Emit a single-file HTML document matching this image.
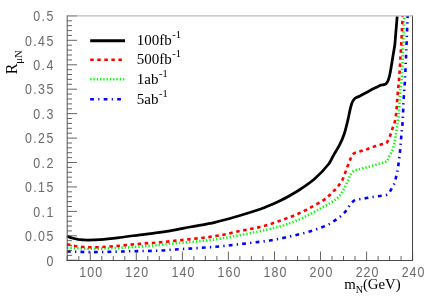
<!DOCTYPE html>
<html><head><meta charset="utf-8"><style>
html,body{margin:0;padding:0;background:#fff;}
svg{display:block;will-change:transform;}
.tk line{stroke:#555;stroke-width:0.9;}
.lab text{font-family:"Liberation Sans",sans-serif;font-size:13.8px;fill:#6a6a6a;letter-spacing:1.6px;}
.ser{font-family:"Liberation Serif",serif;font-size:15px;fill:#000;}
.cv path{fill:none;stroke-linejoin:round;stroke-linecap:butt;}
</style></head><body>
<svg width="436" height="301" viewBox="0 0 436 301">
<g class="cv">
<path d="M67.0,251.4 C74.7,251.6 82.3,252.1 90.0,252.1 C103.3,252.1 116.7,251.6 130.0,251.3 C140.0,251.1 150.0,251.0 160.0,250.6 C163.3,250.5 166.7,250.0 170.0,249.8 C185.0,248.8 200.0,248.1 215.0,246.8 C230.0,245.5 245.0,243.5 260.0,241.8 C263.3,241.4 266.7,241.1 270.0,240.5 C275.1,239.6 280.2,238.7 285.3,237.5 C293.7,235.6 302.2,233.7 310.5,231.3 C315.2,229.9 319.8,228.1 324.4,226.3 C326.3,225.6 328.2,224.7 330.0,223.7 C332.2,222.4 334.3,220.9 336.4,219.4 C338.3,218.1 340.2,216.7 341.9,215.2 C343.6,213.7 345.1,212.0 346.5,210.3 C347.9,208.6 348.8,206.5 350.2,204.8 C351.6,203.1 353.0,201.2 354.8,200.2 C356.6,199.2 359.1,199.3 361.2,198.9 C363.5,198.5 365.7,198.2 368.0,197.8 C370.3,197.4 372.7,197.0 375.0,196.7 C377.1,196.4 379.3,196.2 381.4,195.8 C383.6,195.4 386.1,195.5 387.8,194.3 C389.5,193.1 390.4,190.7 391.5,188.8 C392.6,186.9 393.8,184.9 394.6,182.8 C395.5,180.3 395.9,177.6 396.5,175.0 C397.0,173.0 397.5,171.0 397.8,168.9 C398.5,164.6 399.0,160.3 399.5,156.0 C399.8,153.9 400.0,151.7 400.2,149.6 C400.6,145.0 400.9,140.4 401.3,135.8 C401.7,131.2 402.3,126.6 402.6,122.0 C403.1,114.7 403.2,107.5 403.6,100.2 C403.9,94.5 404.5,88.7 404.8,83.0 C405.5,70.3 406.0,57.7 406.5,45.0 C406.9,35.3 407.2,25.7 407.6,16.0" stroke="#00f" stroke-width="2.6" stroke-dasharray="3.8 4.2 1.3 4.2"/>
<path d="M67.0,247.6 C74.7,248.0 82.3,248.8 90.0,248.8 C100.0,248.8 110.0,248.3 120.0,247.8 C133.3,247.1 146.7,246.1 160.0,245.0 C163.3,244.7 166.7,244.1 170.0,243.8 C185.0,242.3 200.1,241.6 215.0,239.5 C230.1,237.4 245.0,234.1 260.0,231.2 C263.4,230.6 266.7,229.7 270.0,228.9 C274.6,227.7 279.3,226.6 283.8,225.2 C288.4,223.7 293.0,222.1 297.5,220.2 C302.2,218.2 306.8,215.9 311.3,213.5 C315.9,211.1 320.4,208.4 325.0,205.9 C326.7,205.0 328.4,204.2 330.0,203.2 C332.0,202.0 334.0,200.7 335.8,199.3 C337.3,198.1 338.8,196.8 340.0,195.2 C341.9,192.7 343.5,189.8 345.0,187.0 C346.1,184.9 346.9,182.7 347.9,180.6 C348.8,178.5 349.5,176.3 350.6,174.4 C351.3,173.2 352.3,172.2 353.4,171.4 C354.6,170.6 356.1,170.1 357.5,169.6 C359.7,168.9 362.1,168.5 364.4,167.9 C366.7,167.3 369.0,166.7 371.3,166.1 C373.6,165.5 375.9,164.8 378.2,164.1 C380.5,163.4 382.8,162.8 385.0,162.0 C385.7,161.7 386.7,161.6 387.1,161.0 C388.1,159.6 388.4,157.6 389.2,156.0 C390.0,154.4 391.2,153.0 391.9,151.4 C392.8,149.3 393.4,147.0 394.0,144.8 C394.6,142.5 394.9,140.2 395.3,137.9 C395.7,135.6 396.0,133.3 396.3,131.0 C396.7,128.7 397.1,126.4 397.4,124.1 C397.9,120.3 398.5,116.6 398.8,112.8 C399.5,104.4 399.9,96.0 400.6,87.6 C400.8,85.1 401.5,82.6 401.6,80.0 C402.7,58.7 403.4,37.3 404.3,16.0" stroke="#0f0" stroke-width="2.6" stroke-dasharray="1.35 2.05"/>
<path d="M67.0,244.3 C69.7,244.9 72.3,245.6 75.0,246.0 C80.0,246.6 85.0,247.2 90.0,247.3 C96.7,247.4 103.3,247.0 110.0,246.5 C120.0,245.8 130.0,244.6 140.0,243.8 C146.7,243.2 153.3,242.9 160.0,242.3 C163.3,242.0 166.7,241.7 170.0,241.3 C185.0,239.6 200.1,238.4 215.0,236.2 C223.4,235.0 231.7,232.7 240.0,231.0 C246.7,229.6 253.4,228.5 260.0,227.0 C263.9,226.1 267.6,224.9 271.4,223.7 C276.0,222.2 280.6,220.6 285.1,218.9 C289.5,217.3 293.9,215.6 298.2,213.7 C302.6,211.7 307.0,209.5 311.3,207.2 C315.7,204.8 320.2,202.4 324.4,199.6 C326.2,198.5 327.7,196.9 329.2,195.5 C330.2,194.6 331.0,193.5 332.0,192.5 C333.2,191.3 334.7,190.4 335.8,189.1 C337.3,187.4 338.6,185.4 340.0,183.5 C340.7,182.5 341.6,181.7 342.1,180.6 C343.3,178.2 344.1,175.5 345.1,173.0 C346.1,170.5 346.9,168.0 347.9,165.5 C348.8,163.2 349.6,160.8 350.6,158.6 C351.4,156.9 352.0,154.9 353.4,153.8 C355.0,152.5 357.5,152.2 359.6,151.5 C362.1,150.6 364.7,150.0 367.2,149.1 C369.5,148.3 371.7,147.4 374.0,146.6 C376.3,145.8 378.6,145.2 380.9,144.5 C382.7,144.0 384.9,144.0 386.4,143.1 C387.2,142.6 387.5,141.4 388.0,140.5 C388.7,139.2 389.3,137.9 389.8,136.5 C390.7,134.2 391.4,131.8 392.2,129.4 C393.0,127.0 394.1,124.6 394.7,122.1 C395.4,119.1 395.9,115.9 396.2,112.8 C396.9,106.1 397.2,99.3 397.8,92.6 C398.2,88.4 398.7,84.2 399.0,80.0 C399.8,68.3 400.5,56.7 401.2,45.0 C401.7,35.4 402.1,25.9 402.6,16.3" stroke="#f00" stroke-width="2.6" stroke-dasharray="3.5 3.6"/>
<path d="M67.0,236.0 C68.7,236.7 70.3,237.5 72.0,238.0 C74.0,238.6 76.0,239.1 78.0,239.4 C81.3,239.8 84.7,240.0 88.0,240.0 C92.0,240.0 96.0,239.9 100.0,239.6 C106.7,239.1 113.3,238.3 120.0,237.5 C126.7,236.7 133.3,235.7 140.0,234.8 C146.7,234.0 153.3,233.3 160.0,232.4 C163.3,232.0 166.7,231.5 170.0,230.9 C176.7,229.7 183.3,228.3 190.0,227.0 C198.3,225.4 206.7,224.2 215.0,222.3 C223.4,220.4 231.7,217.9 240.0,215.5 C246.7,213.6 253.4,211.5 260.0,209.3 C263.4,208.1 266.7,206.7 270.0,205.3 C273.4,203.9 276.7,202.3 280.0,200.7 C282.6,199.4 285.3,198.1 287.8,196.7 C291.9,194.4 296.1,192.1 300.0,189.5 C305.1,186.1 310.4,182.6 315.0,178.5 C320.0,174.1 324.6,169.2 328.7,164.0 C330.7,161.6 331.7,158.4 333.3,155.7 C335.4,152.0 337.8,148.5 339.7,144.7 C341.5,141.2 343.0,137.5 344.3,133.7 C345.7,129.4 346.7,124.9 347.8,120.4 C349.1,115.0 349.9,109.3 351.6,104.0 C352.2,102.0 353.3,99.8 354.8,98.4 C356.1,97.1 358.3,96.9 360.0,96.0 C363.4,94.2 366.6,92.3 370.0,90.5 C372.8,89.0 375.7,87.7 378.5,86.3 C379.4,85.9 380.3,85.3 381.2,85.0 C382.1,84.7 383.1,84.9 384.0,84.6 C384.8,84.4 385.6,84.1 386.2,83.6 C386.9,82.9 387.5,81.9 387.9,81.0 C388.6,79.4 389.1,77.7 389.5,76.0 C390.2,73.0 390.7,70.0 391.2,67.0 C391.7,64.3 392.1,61.5 392.5,58.8 C393.0,56.0 393.4,53.3 393.9,50.5 C394.2,48.7 394.6,46.8 394.8,45.0 C395.2,41.8 395.3,38.5 395.6,35.3 C396.1,29.0 396.7,22.6 397.2,16.3" stroke="#000" stroke-width="2.75"/>
</g>
<g class="tk"><line x1="67" y1="260.2" x2="77" y2="260.2"/><line x1="67" y1="255.4" x2="72" y2="255.4"/><line x1="67" y1="250.5" x2="72" y2="250.5"/><line x1="67" y1="245.6" x2="72" y2="245.6"/><line x1="67" y1="240.7" x2="72" y2="240.7"/><line x1="67" y1="235.8" x2="77" y2="235.8"/><line x1="67" y1="230.9" x2="72" y2="230.9"/><line x1="67" y1="226.0" x2="72" y2="226.0"/><line x1="67" y1="221.2" x2="72" y2="221.2"/><line x1="67" y1="216.3" x2="72" y2="216.3"/><line x1="67" y1="211.4" x2="77" y2="211.4"/><line x1="67" y1="206.5" x2="72" y2="206.5"/><line x1="67" y1="201.6" x2="72" y2="201.6"/><line x1="67" y1="196.7" x2="72" y2="196.7"/><line x1="67" y1="191.8" x2="72" y2="191.8"/><line x1="67" y1="186.9" x2="77" y2="186.9"/><line x1="67" y1="182.1" x2="72" y2="182.1"/><line x1="67" y1="177.2" x2="72" y2="177.2"/><line x1="67" y1="172.3" x2="72" y2="172.3"/><line x1="67" y1="167.4" x2="72" y2="167.4"/><line x1="67" y1="162.5" x2="77" y2="162.5"/><line x1="67" y1="157.6" x2="72" y2="157.6"/><line x1="67" y1="152.7" x2="72" y2="152.7"/><line x1="67" y1="147.8" x2="72" y2="147.8"/><line x1="67" y1="143.0" x2="72" y2="143.0"/><line x1="67" y1="138.1" x2="77" y2="138.1"/><line x1="67" y1="133.2" x2="72" y2="133.2"/><line x1="67" y1="128.3" x2="72" y2="128.3"/><line x1="67" y1="123.4" x2="72" y2="123.4"/><line x1="67" y1="118.5" x2="72" y2="118.5"/><line x1="67" y1="113.6" x2="77" y2="113.6"/><line x1="67" y1="108.8" x2="72" y2="108.8"/><line x1="67" y1="103.9" x2="72" y2="103.9"/><line x1="67" y1="99.0" x2="72" y2="99.0"/><line x1="67" y1="94.1" x2="72" y2="94.1"/><line x1="67" y1="89.2" x2="77" y2="89.2"/><line x1="67" y1="84.3" x2="72" y2="84.3"/><line x1="67" y1="79.4" x2="72" y2="79.4"/><line x1="67" y1="74.5" x2="72" y2="74.5"/><line x1="67" y1="69.7" x2="72" y2="69.7"/><line x1="67" y1="64.8" x2="77" y2="64.8"/><line x1="67" y1="59.9" x2="72" y2="59.9"/><line x1="67" y1="55.0" x2="72" y2="55.0"/><line x1="67" y1="50.1" x2="72" y2="50.1"/><line x1="67" y1="45.2" x2="72" y2="45.2"/><line x1="67" y1="40.3" x2="77" y2="40.3"/><line x1="67" y1="35.4" x2="72" y2="35.4"/><line x1="67" y1="30.6" x2="72" y2="30.6"/><line x1="67" y1="25.7" x2="72" y2="25.7"/><line x1="67" y1="20.8" x2="72" y2="20.8"/><line x1="67" y1="15.9" x2="77" y2="15.9"/><line x1="67.2" y1="260.5" x2="67.2" y2="256.0"/><line x1="78.8" y1="260.5" x2="78.8" y2="256.0"/><line x1="90.3" y1="260.5" x2="90.3" y2="251.5"/><line x1="101.8" y1="260.5" x2="101.8" y2="256.0"/><line x1="113.3" y1="260.5" x2="113.3" y2="256.0"/><line x1="124.8" y1="260.5" x2="124.8" y2="256.0"/><line x1="136.3" y1="260.5" x2="136.3" y2="251.5"/><line x1="147.8" y1="260.5" x2="147.8" y2="256.0"/><line x1="159.3" y1="260.5" x2="159.3" y2="256.0"/><line x1="170.9" y1="260.5" x2="170.9" y2="256.0"/><line x1="182.4" y1="260.5" x2="182.4" y2="251.5"/><line x1="193.9" y1="260.5" x2="193.9" y2="256.0"/><line x1="205.4" y1="260.5" x2="205.4" y2="256.0"/><line x1="216.9" y1="260.5" x2="216.9" y2="256.0"/><line x1="228.4" y1="260.5" x2="228.4" y2="251.5"/><line x1="239.9" y1="260.5" x2="239.9" y2="256.0"/><line x1="251.4" y1="260.5" x2="251.4" y2="256.0"/><line x1="262.9" y1="260.5" x2="262.9" y2="256.0"/><line x1="274.5" y1="260.5" x2="274.5" y2="251.5"/><line x1="286.0" y1="260.5" x2="286.0" y2="256.0"/><line x1="297.5" y1="260.5" x2="297.5" y2="256.0"/><line x1="309.0" y1="260.5" x2="309.0" y2="256.0"/><line x1="320.5" y1="260.5" x2="320.5" y2="251.5"/><line x1="332.0" y1="260.5" x2="332.0" y2="256.0"/><line x1="343.5" y1="260.5" x2="343.5" y2="256.0"/><line x1="355.0" y1="260.5" x2="355.0" y2="256.0"/><line x1="366.6" y1="260.5" x2="366.6" y2="251.5"/><line x1="378.1" y1="260.5" x2="378.1" y2="256.0"/><line x1="389.6" y1="260.5" x2="389.6" y2="256.0"/><line x1="401.1" y1="260.5" x2="401.1" y2="256.0"/><line x1="412.6" y1="260.5" x2="412.6" y2="251.5"/></g>
<line x1="67.2" y1="15.5" x2="67.2" y2="261" stroke="#555" stroke-width="1"/>
<line x1="66.5" y1="260.5" x2="413" y2="260.5" stroke="#4a4a4a" stroke-width="1"/>
<line x1="412.5" y1="15.5" x2="412.5" y2="261" stroke="#444" stroke-width="1"/>
<line x1="66.5" y1="15.9" x2="413" y2="15.9" stroke="#aaa" stroke-width="1"/>
<g class="lab"><text transform="translate(54.8,265.5) scale(0.9,1)" text-anchor="end">0</text><text transform="translate(54.8,241.0) scale(0.9,1)" text-anchor="end">0.05</text><text transform="translate(54.8,216.6) scale(0.9,1)" text-anchor="end">0.1</text><text transform="translate(54.8,192.1) scale(0.9,1)" text-anchor="end">0.15</text><text transform="translate(54.8,167.7) scale(0.9,1)" text-anchor="end">0.2</text><text transform="translate(54.8,143.3) scale(0.9,1)" text-anchor="end">0.25</text><text transform="translate(54.8,118.8) scale(0.9,1)" text-anchor="end">0.3</text><text transform="translate(54.8,94.4) scale(0.9,1)" text-anchor="end">0.35</text><text transform="translate(54.8,70.0) scale(0.9,1)" text-anchor="end">0.4</text><text transform="translate(54.8,45.5) scale(0.9,1)" text-anchor="end">0.45</text><text transform="translate(54.8,21.1) scale(0.9,1)" text-anchor="end">0.5</text><text transform="translate(91.3,277) scale(0.9,1)" text-anchor="middle" style="letter-spacing:1.2px">100</text><text transform="translate(137.3,277) scale(0.9,1)" text-anchor="middle" style="letter-spacing:1.2px">120</text><text transform="translate(183.4,277) scale(0.9,1)" text-anchor="middle" style="letter-spacing:1.2px">140</text><text transform="translate(229.4,277) scale(0.9,1)" text-anchor="middle" style="letter-spacing:1.2px">160</text><text transform="translate(275.5,277) scale(0.9,1)" text-anchor="middle" style="letter-spacing:1.2px">180</text><text transform="translate(321.5,277) scale(0.9,1)" text-anchor="middle" style="letter-spacing:1.2px">200</text><text transform="translate(367.6,277) scale(0.9,1)" text-anchor="middle" style="letter-spacing:1.2px">220</text><text transform="translate(413.6,277) scale(0.9,1)" text-anchor="middle" style="letter-spacing:1.2px">240</text></g>
<line x1="90.2" y1="40.7" x2="125" y2="40.7" stroke="#000" stroke-width="2.9"/><text x="136.8" y="45.3" class="ser">100fb<tspan dy="-7" dx="0.5" style="font-size:10.5px">-1</tspan></text><line x1="90.2" y1="59.7" x2="125" y2="59.7" stroke="#f00" stroke-width="2.5" stroke-dasharray="3.5 3.55"/><text x="136.8" y="64.3" class="ser">500fb<tspan dy="-7" dx="0.5" style="font-size:10.5px">-1</tspan></text><line x1="90.2" y1="79.3" x2="125" y2="79.3" stroke="#0f0" stroke-width="2.5" stroke-dasharray="1.3 1.98"/><text x="136.8" y="83.9" class="ser">1ab<tspan dy="-7" dx="0.5" style="font-size:10.5px">-1</tspan></text><line x1="90.2" y1="99.3" x2="125" y2="99.3" stroke="#00f" stroke-width="2.5" stroke-dasharray="3.7 4.3 1.2 4.3"/><text x="136.8" y="103.9" class="ser">5ab<tspan dy="-7" dx="0.5" style="font-size:10.5px">-1</tspan></text>
<text class="ser" font-size="15" transform="translate(16.6,74.3) rotate(-90)" style="font-size:16px">R<tspan dy="5.5" style="font-size:10.5px">μN</tspan></text>
<text class="ser" x="344.2" y="289.4" style="font-size:14.8px">m<tspan dy="3.6" style="font-size:10px">N</tspan><tspan dy="-3.6">(GeV)</tspan></text>
</svg>
</body></html>
